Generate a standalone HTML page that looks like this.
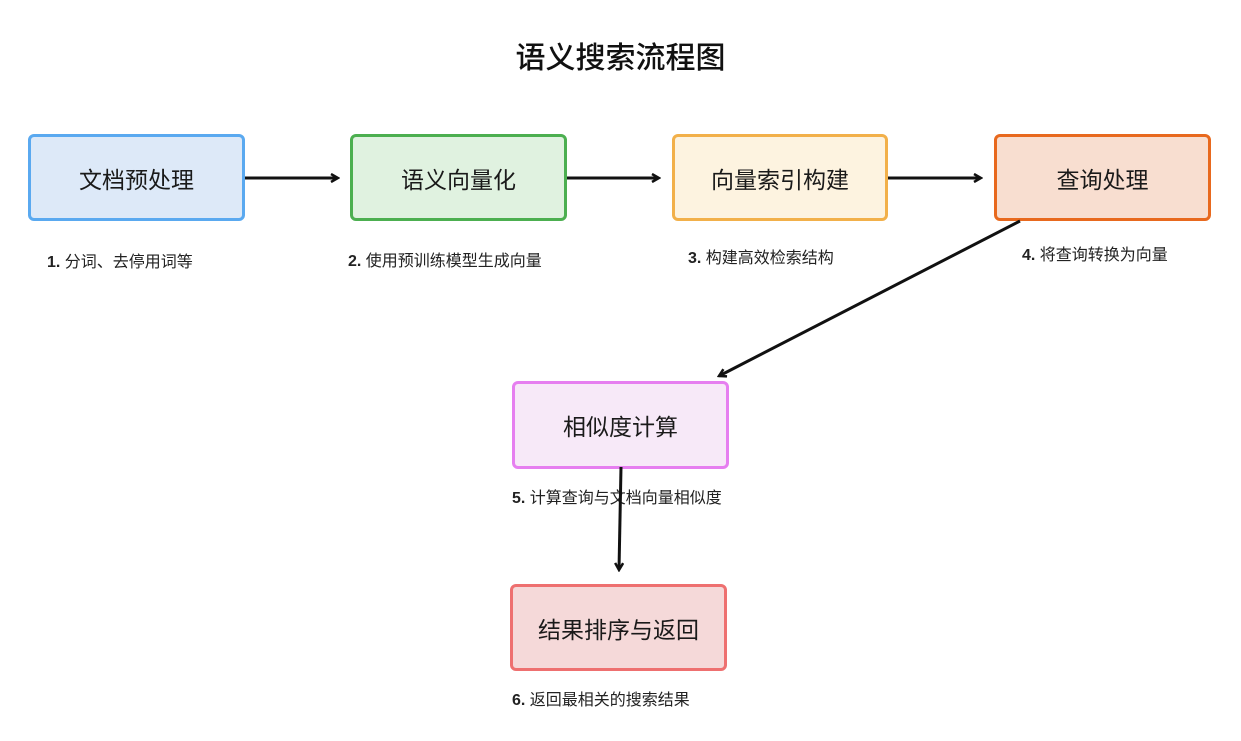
<!DOCTYPE html>
<html><head><meta charset="utf-8"><style>
body{margin:0;width:1241px;height:741px;background:#fff;position:relative;overflow:hidden;font-family:"Liberation Sans","Noto Sans CJK SC",sans-serif;color:#111}
.b{position:absolute;box-sizing:border-box;border:3px solid;border-radius:6px;display:flex;align-items:center;justify-content:center;font-size:23px;color:#1a1a1a}
.l{position:absolute;font-size:16px;color:#222;white-space:nowrap}
.l b{font-weight:bold}
</style></head><body>
<div style="position:absolute;left:0;width:1241px;top:33px;text-align:center;font-size:30px;font-weight:500">语义搜索流程图</div>
<div class="b" style="left:28px;top:134px;width:217px;height:87px;border-color:#5aa9f0;background:#dde9f8">文档预处理</div>
<div class="b" style="left:350px;top:134px;width:217px;height:87px;border-color:#4caf50;background:#e0f2e0">语义向量化</div>
<div class="b" style="left:672px;top:134px;width:216px;height:87px;border-color:#f2b04a;background:#fdf3e0">向量索引构建</div>
<div class="b" style="left:994px;top:134px;width:217px;height:87px;border-color:#e8691e;background:#f8ded0">查询处理</div>
<div class="b" style="left:512px;top:381px;width:217px;height:88px;border-color:#e67ff0;background:#f7e9f8">相似度计算</div>
<div class="b" style="left:510px;top:584px;width:217px;height:87px;border-color:#ee7070;background:#f5d9d9">结果排序与返回</div>
<div class="l" style="left:47px;top:248px"><b>1.</b> 分词、去停用词等</div>
<div class="l" style="left:348px;top:247px"><b>2.</b> 使用预训练模型生成向量</div>
<div class="l" style="left:688px;top:244px"><b>3.</b> 构建高效检索结构</div>
<div class="l" style="left:1022px;top:241px"><b>4.</b> 将查询转换为向量</div>
<div class="l" style="left:512px;top:484px"><b>5.</b> 计算查询与文档向量相似度</div>
<div class="l" style="left:512px;top:686px"><b>6.</b> 返回最相关的搜索结果</div>
<svg width="1241" height="741" style="position:absolute;left:0;top:0">
<defs><marker id="a" markerWidth="10" markerHeight="10" refX="8" refY="5" orient="auto" markerUnits="userSpaceOnUse"><path d="M1,1 L8,5 L1,9" fill="none" stroke="#111" stroke-width="2.5"/></marker></defs>
<g stroke="#111" stroke-width="3" fill="none" marker-end="url(#a)">
<line x1="245" y1="178" x2="338" y2="178"/>
<line x1="567" y1="178" x2="659" y2="178"/>
<line x1="888" y1="178" x2="981" y2="178"/>
<line x1="1020" y1="221" x2="719" y2="376"/>
<line x1="621" y1="467" x2="619" y2="570"/>
</g></svg>
</body></html>
